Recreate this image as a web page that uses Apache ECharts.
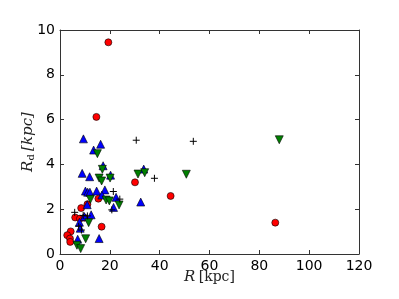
<!DOCTYPE html>
<html><head><meta charset="utf-8">
<script src="https://cdn.jsdelivr.net/npm/echarts@6/dist/echarts.min.js"></script>
<style>html,body{margin:0;padding:0;background:#fff}#c{width:399px;height:299px}</style>
</head><body><div id="c"></div>
<script>
var redCircles = [[19.4,9.45],[14.6,6.12],[30.1,3.2],[44.4,2.59],[86.4,1.4],[15.4,2.47],[16.7,1.22],[8.5,2.05],[11.0,2.22],[6.1,1.63],[8.0,1.58],[9.8,1.62],[4.3,1.01],[2.9,0.84],[4.0,0.69],[4.1,0.54]];
var blueUp = [[9.4,5.14],[13.5,4.64],[16.3,4.9],[8.9,3.6],[11.9,3.45],[17.3,3.94],[20.3,3.52],[10.2,2.81],[11.1,2.76],[12.0,2.76],[14.7,2.81],[18.0,2.86],[16.8,2.63],[22.5,2.53],[21.5,2.08],[10.9,2.2],[12.5,1.75],[9.8,1.67],[7.8,1.42],[8.1,1.15],[7.1,0.66],[15.7,0.69],[32.4,2.32],[33.6,3.79]];
var greenDown = [[15.0,4.48],[15.7,3.39],[16.7,3.26],[17.0,3.78],[20.1,3.39],[12.2,2.44],[18.5,2.41],[19.8,2.37],[23.7,2.19],[11.5,1.4],[10.3,0.68],[6.8,0.39],[8.3,0.24],[31.3,3.57],[34.0,3.63],[50.7,3.56],[88.0,5.1]];
var blackPlus = [[30.6,5.08],[53.5,5.03],[37.9,3.38],[21.4,2.79],[24.0,2.45],[20.8,1.97],[5.9,1.86],[7.5,1.24],[8.6,1.07],[9.3,1.72],[11.0,1.7]];
var xTicks = [0,20,40,60,80,100,120];
var yTicks = [0,2,4,6,8,10];

var frame = '#333';
var tickLbl = {fontFamily:'DejaVu Sans', fontSize:14, color:'#000'};
function axisBase(show){
  return {
    axisLine:{show:true, onZero:false, lineStyle:{color:frame, width:1}},
    axisTick:{show:true, inside:true, length:4, lineStyle:{color:frame}},
    splitLine:{show:false},
    axisLabel:show ? Object.assign({margin:5}, tickLbl) : {show:false}
  };
}
var chart = echarts.init(document.getElementById('c'), null, {renderer:'canvas'});
chart.setOption({
  animation:false,
  grid:{left:60, right:40, top:30, bottom:45, containLabel:false},
  xAxis:[
    Object.assign({type:'value', min:xTicks[0], max:xTicks[xTicks.length-1], interval:20, position:'bottom',
      name:'{i|R} {r|[kpc]}', nameLocation:'middle', nameGap:16, nameMoveOverlap:false,
      nameTextStyle:{verticalAlign:'top', rich:{i:{fontFamily:'DejaVu Serif', fontStyle:'italic', fontSize:15, color:'#222'}, r:{fontFamily:'DejaVu Serif', fontSize:14, color:'#222'}}}
    }, axisBase(true)),
    Object.assign({type:'value', min:xTicks[0], max:xTicks[xTicks.length-1], interval:20, position:'top'}, axisBase(false))
  ],
  yAxis:[
    Object.assign({type:'value', min:yTicks[0], max:yTicks[yTicks.length-1], interval:2, position:'left',
      name:'{i|R}{s|d} {i|[kpc]}', nameLocation:'middle', nameGap:24, nameMoveOverlap:false,
      nameTextStyle:{rich:{i:{fontFamily:'DejaVu Serif', fontStyle:'italic', fontSize:15, color:'#222'}, s:{fontFamily:'DejaVu Serif', fontSize:10, color:'#222', verticalAlign:'bottom'}}}
    }, axisBase(true)),
    Object.assign({type:'value', min:yTicks[0], max:yTicks[yTicks.length-1], interval:2, position:'right'}, axisBase(false))
  ],
  series:[
    {type:'scatter', data:redCircles, symbol:'circle', symbolSize:7,
      itemStyle:{color:'#ff0000', opacity:1, borderColor:'#000', borderWidth:0.6}},
    {type:'scatter', data:blueUp, symbol:'triangle', symbolSize:8,
      itemStyle:{color:'#0000ff', opacity:1, borderColor:'#000', borderWidth:0.6}},
    {type:'scatter', data:greenDown, symbol:'triangle', symbolRotate:180, symbolSize:8,
      itemStyle:{color:'#008000', opacity:1, borderColor:'#000', borderWidth:0.6}},
    {type:'scatter', data:blackPlus, symbol:'path://M0,5L10,5M5,0L5,10', symbolSize:7,
      itemStyle:{color:'none', opacity:1, borderColor:'#000', borderWidth:1}}
  ]
});
</script></body></html>
